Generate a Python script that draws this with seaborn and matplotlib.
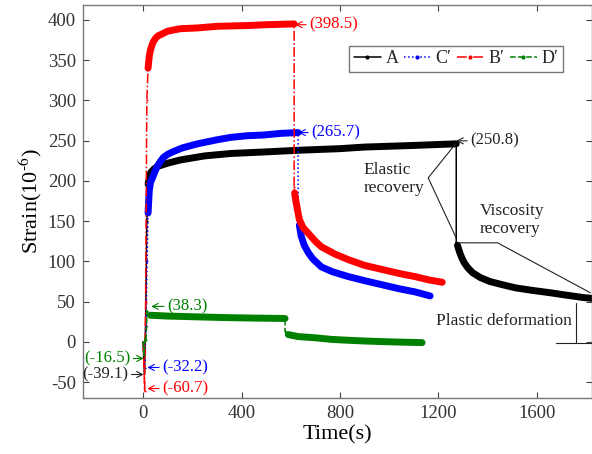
import matplotlib
matplotlib.use("Agg")
import matplotlib.pyplot as plt
import seaborn as sns
import pandas as pd
from matplotlib.lines import Line2D

# ---------------- data ----------------
# A (black)
A_load_t = [0, 5, 10, 15, 20, 30, 45, 60, 100, 152, 250, 356, 500, 630, 800, 901, 1100, 1273]
A_load_s = [0, -39.1, 20, 150, 196, 210, 215, 218, 222, 226, 231, 234, 236, 238, 240, 242, 244, 246]
A_unload_t = [1273, 1278, 1286, 1296, 1306, 1320, 1339, 1370, 1409, 1460, 1515, 1580, 1654, 1720, 1790, 1825]
A_unload_s = [124, 120, 112, 104, 98, 92, 86, 80, 75, 71, 67, 64, 61, 58, 55, 54]

# C' (blue)
C_load_t = [0, 6, 12, 16, 20, 25, 30, 41, 50, 57, 70, 82, 100, 120, 160, 221, 300, 356, 420, 491, 560, 630]
C_load_s = [0, -32.2, 20, 100, 160, 188, 198, 206, 213, 218, 224, 229, 233, 236, 241, 246, 251, 254, 256, 257, 259, 260]
C_unload_t = [630, 635, 643, 655, 671, 690, 725, 770, 835, 900, 970, 1040, 1106, 1167]
C_unload_s = [155, 145, 131, 120, 111, 103, 93, 87, 81, 76, 71, 66, 62, 57]

# B' (red)
B_load_t = [0, 6, 10, 15, 20, 25, 30, 40, 50, 60, 80, 100, 150, 221, 300, 426, 500, 614]
B_load_s = [0, -60.7, 50, 300, 340, 355, 363, 372, 377, 380, 383, 386, 389, 390, 392, 393, 394, 395]
B_unload_t = [614, 616, 622, 635, 650, 671, 700, 725, 780, 835, 900, 970, 1040, 1106, 1160, 1216]
B_unload_s = [192, 185, 173, 152, 142, 135, 125, 118, 109, 102, 95, 90, 85, 81, 77, 74]

# D' (green)
D_load_t = [0, 3, 8, 12, 16, 29, 100, 221, 350, 450, 577]
D_load_s = [0, -16.5, 4, 2, 38.3, 33, 32, 31, 30, 29.5, 29]
D_unload_t = [577, 590, 630, 700, 766, 830, 901, 1000, 1134]
D_unload_s = [13, 9, 6.5, 5, 3, 2, 1, 0, -1]

series_names = ["A", "C\u2032", "B\u2032", "D\u2032"]

# ---------------- style ----------------
sns.set_style("ticks")
plt.rcParams["font.family"] = ["Liberation Serif", "DejaVu Serif"]
plt.rcParams["mathtext.fontset"] = "stix"
plt.rcParams["axes.unicode_minus"] = False

fig = plt.figure(figsize=(5.92, 4.54), dpi=100)
ax = fig.add_axes([0.140, 0.123, 0.860, 0.866])

specs = [
    ("A", A_load_t, A_load_s, A_unload_t, A_unload_s, "black", "-", 4),
    ("C\u2032", C_load_t, C_load_s, C_unload_t, C_unload_s, "#0000ff", ":", 4),
    ("B\u2032", B_load_t, B_load_s, B_unload_t, B_unload_s, "#ff0000", "-.", 4),
    ("D\u2032", D_load_t, D_load_s, D_unload_t, D_unload_s, "#008000", "--", 5),
]

handles = []
for name, lt, ls, ut, us, col, sty, k in specs:
    full = pd.DataFrame({"t": list(lt) + list(ut), "s": list(ls) + list(us)})
    sns.lineplot(data=full, x="t", y="s", ax=ax, estimator=None, sort=False,
                 color=col, linestyle=sty, lw=1.1, marker=".", markersize=3,
                 markeredgewidth=0, legend=False)
    band_load = pd.DataFrame({"t": lt[k:], "s": ls[k:]})
    band_unload = pd.DataFrame({"t": ut[1:], "s": us[1:]})
    for band in (band_load, band_unload):
        sns.lineplot(data=band, x="t", y="s", ax=ax, estimator=None, sort=False,
                     color=col, lw=5, solid_capstyle="round",
                     solid_joinstyle="round", legend=False)
    handles.append(Line2D([], [], color=col, linestyle=sty, lw=1.1,
                          marker=".", markersize=4))

# ---------------- axes ----------------
ax.set_xlim(-245, 1825)
ax.set_ylim(-70, 418.5)
ax.set_xticks([0, 400, 800, 1200, 1600])
ax.set_yticks([-50, 0, 50, 100, 150, 200, 250, 300, 350, 400])
ax.tick_params(direction="in", length=4, width=0.8, labelsize=13.5,
               colors="#444444", labelcolor="#333333",
               top=True, right=True, pad=5)
ax.tick_params(axis="x", pad=5)
for sp in ax.spines.values():
    sp.set_color("#777777")
    sp.set_linewidth(1.0)
ax.set_xlabel("Time(s)", fontsize=16, color="black", labelpad=2)
ax.set_ylabel("Strain(10$^{\u20106}$)", fontsize=16, color="black", labelpad=3)

leg = ax.legend(handles, series_names, loc="upper right",
                bbox_to_anchor=(0.943, 0.896), borderaxespad=0, ncol=4,
                fontsize=13, handlelength=1.5, handletextpad=0.25,
                columnspacing=0.3, frameon=True, fancybox=False,
                borderpad=0.25, edgecolor="#555555")
leg.get_frame().set_linewidth(1.0)

# ---------------- annotations ----------------
arrow = dict(arrowstyle="->,head_length=0.35,head_width=0.18", lw=0.8, shrinkA=0, shrinkB=0)

def ann(txt, xy, xytext, col, ha):
    ax.annotate(txt, xy=xy, xytext=xytext, color=col, fontsize=12, ha=ha, va="center",
                arrowprops=dict(arrow, color=col))

ann("(398.5)", (618, 394), (676, 394), "#ff0000", "left")
ann("(265.7)", (631, 260), (684, 260), "#0000ff", "left")
ann("(250.8)", (1273, 249.7), (1331, 249.7), "#222222", "left")
ann("(38.3)", (33, 44), (98, 44), "#008000", "left")
ann("(-16.5)", (2, -20.7), (-53, -20.7), "#008000", "right")
ann("(-39.1)", (2, -40.6), (-61, -40.6), "#222222", "right")
ann("(-32.2)", (17, -31.9), (78, -31.9), "#0000ff", "left")
ann("(-60.7)", (17, -58), (78, -58), "#ff0000", "left")

# Elastic recovery
ax.text(897, 202, "Elastic\nrecovery", fontsize=12.5, ha="left", va="center",
        color="#222222", linespacing=1.15)
ax.plot([1273, 1159, 1273], [247, 203.7, 129], color="#222222", lw=0.8)
# Viscosity recovery
ax.text(1368, 151, "Viscosity\nrecovery", fontsize=12.5, ha="left", va="center",
        color="#222222", linespacing=1.15)
ax.plot([1286, 1441, 1818], [123, 123, 61], color="#222222", lw=0.8)
# Plastic deformation
ax.text(1192, 26, "Plastic deformation", fontsize=12.5, ha="left", va="center",
        color="#222222")
ax.plot([1761, 1761], [48.8, -0.9], color="#222222", lw=0.8)
ax.plot([1679, 1830], [-0.9, -0.9], color="#222222", lw=0.8)

fig.savefig("out.png", dpi=100)
